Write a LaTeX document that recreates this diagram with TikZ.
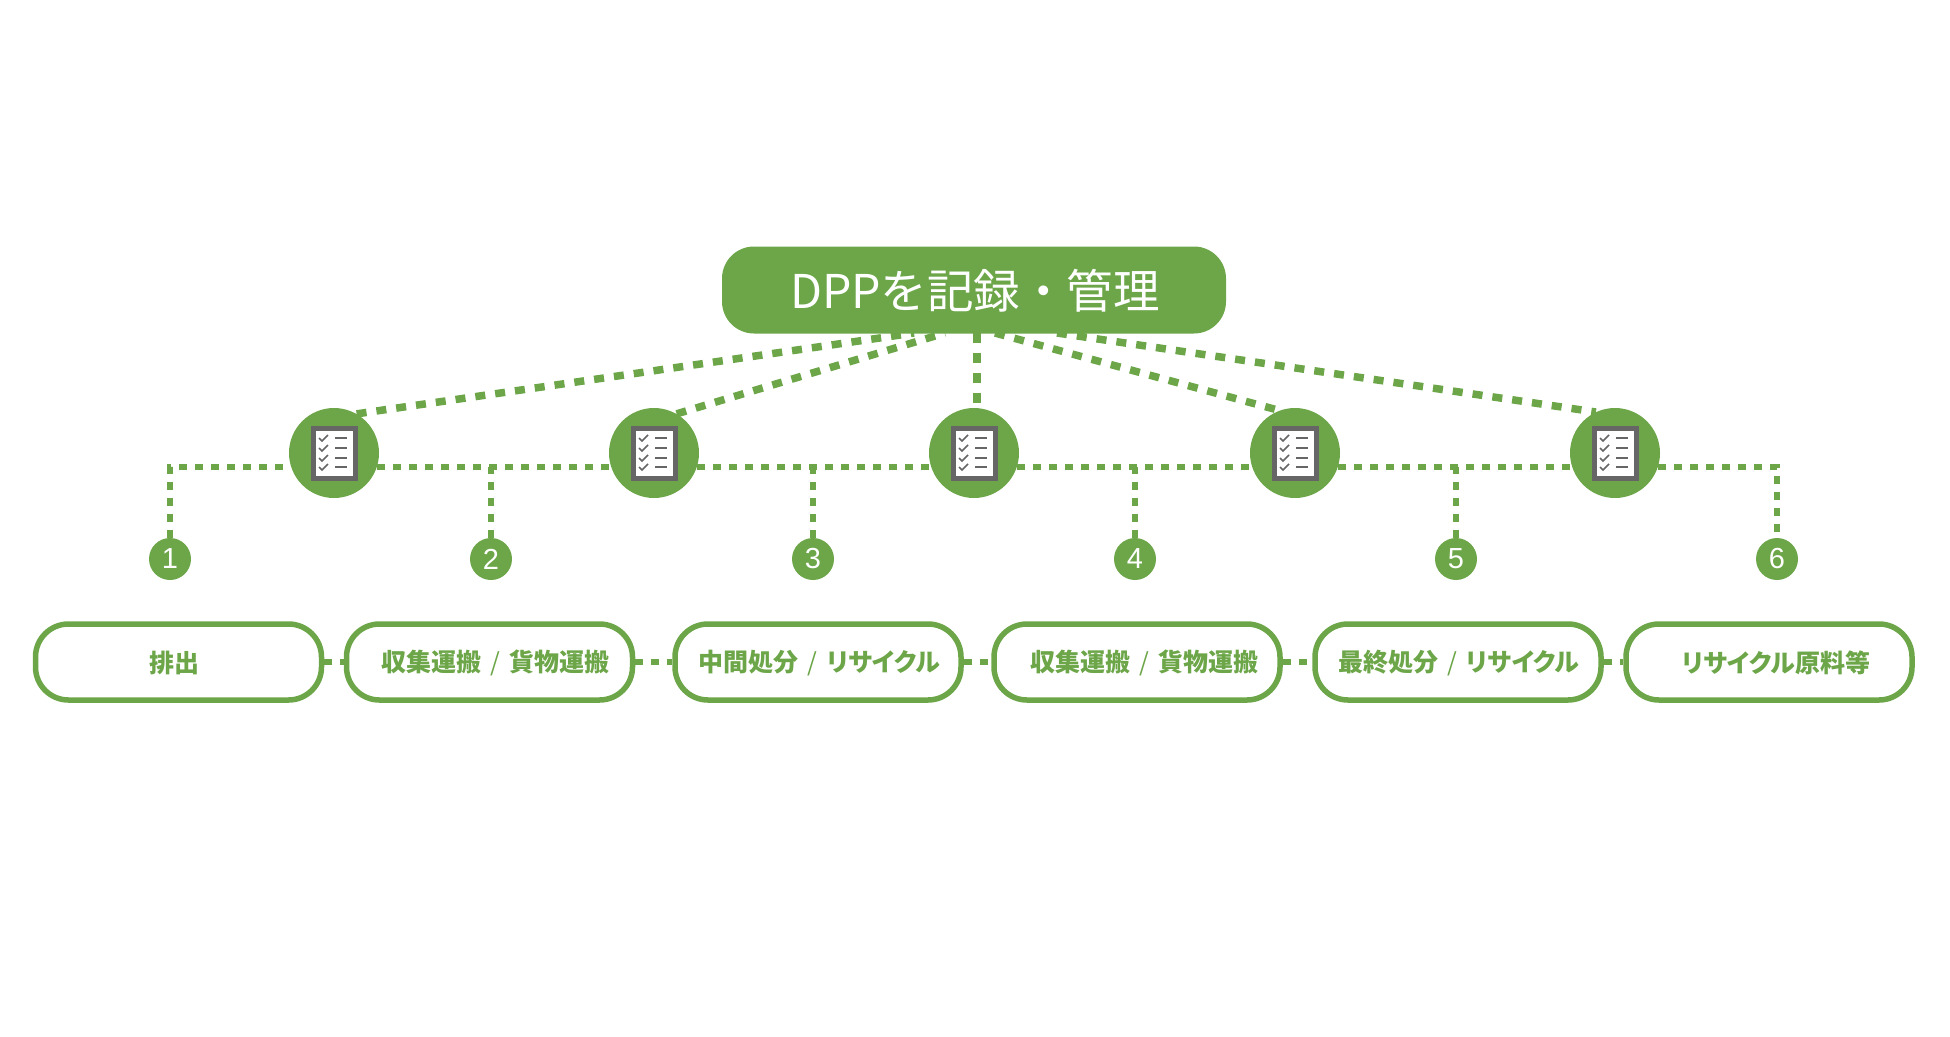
\documentclass[tikz,border=0pt]{standalone}
\usepackage{fontspec}
\setmainfont[RawFeature=+palt]{Noto Sans CJK JP}
\newfontfamily\titlefont{Noto Sans CJK JP}
\newfontfamily\numfont{Liberation Sans}
\newcommand\slashgap{\makebox[28pt]{\mdseries/}}
\usetikzlibrary{backgrounds,calc}
\definecolor{dppgreen}{HTML}{6CA648}
\definecolor{dppgray}{HTML}{666666}
\tikzset{
  x=1pt,y=-1pt,
  titlebox/.style={fill=dppgreen,rounded corners=32pt,minimum width=504pt,minimum height=87pt,inner sep=0pt},
  titletext/.style={text=white,font=\titlefont\fontsize{46.5}{50}\selectfont,inner sep=0pt},
  hub/.style={circle,fill=dppgreen,minimum size=90pt,inner sep=0pt},
  numdot/.style={circle,fill=dppgreen,minimum size=42pt,inner sep=0pt,text=white,font=\numfont\fontsize{29}{30}\selectfont},
  stage/.style={draw=dppgreen,line width=5.5pt,fill=white,rounded corners=33pt,minimum width=286pt,minimum height=76pt,inner sep=0pt},
  stagetext/.style={text=dppgreen,font=\bfseries\fontsize{25}{28}\selectfont,inner sep=0pt},
  biglink/.style={draw=dppgreen,line width=7.5pt,dash pattern=on 10pt off 10pt},
  link/.style={draw=dppgreen,line width=6pt,dash pattern=on 8pt off 8pt},
  sheet/.pic={
    \draw[dppgray,line width=5pt,fill=white] (-21,-25) rectangle (21,25);
    \foreach \yy in {-15,-5,5,14}{
      \draw[dppgray,line width=1.6pt] (-15,\yy) -- (-12,\yy+3) -- (-6,\yy-3);
      \draw[dppgray,line width=1.6pt] (1,\yy) -- (13,\yy);
    }
  }
}
\begin{document}
\begin{tikzpicture}
\useasboundingbox (0,0) rectangle (1950,1036);
\node[titlebox] (top) at (974,290) {};
\node[titletext] (toptext) at (975,291) {DPPを記録・管理};
\foreach \i/\xx in {1/334,2/654,3/974,4/1295,5/1615}{
  \node[hub] (c\i) at (\xx,453) {};
  \pic at (c\i.center) {sheet};
}
\foreach \i/\xx in {1/170,2/491,3/813,4/1135,5/1456,6/1777}{
  \node[numdot] (n\i) at (\xx,559) {\i};
}
\node[stage] (p1) at (178.5,662) {};
\node[stage] (p2) at (489.5,662) {};
\node[stage] (p3) at (818,662) {};
\node[stage] (p4) at (1137,662) {};
\node[stage] (p5) at (1458,662) {};
\node[stage] (p6) at (1769,662) {};
\node[stagetext] (s1) at (174.5,663) {排出};
\node[stagetext] (s2) at (495,663) {収集運搬\slashgap 貨物運搬};
\node[stagetext] (s3) at (819.5,663) {中間処分\slashgap リサイクル};
\node[stagetext] (s4) at (1144,663) {収集運搬\slashgap 貨物運搬};
\node[stagetext] (s5) at (1459,663) {最終処分\slashgap リサイクル};
\node[stagetext] (s6) at (1776,663) {リサイクル原料等};
\coordinate (t1) at (914,333);
\coordinate (t2) at (945,333);
\coordinate (t3) at (977,333);
\coordinate (t4) at (995,333);
\coordinate (t5) at (1057,333);
\begin{scope}[on background layer]
  \draw[biglink] (c1.60) -- (t1);
  \draw[biglink] (c2.60) -- (t2);
  \draw[biglink] (t3) -- (t3 |- c3.north);
  \draw[biglink] (t4) -- (c4.110);
  \draw[biglink] (t5) -- (c5.115);
  \draw[link] (n1.north) |- (c1.198);
  \draw[link] (c1.-18) -- (c2.198);
  \draw[link] (c2.-18) -- (c3.198);
  \draw[link] (c3.-18) -- (c4.198);
  \draw[link] (c4.-18) -- (c5.198);
  \draw[link] (c5.-18) -| (n6.north);
  \foreach \i in {2,3,4,5}{
    \draw[link] (n\i.north) -- (n\i.north |- c1.198);
  }
  \foreach \a/\b in {1/2,2/3,3/4,4/5,5/6}{
    \draw[link] (p\a.east) -- (p\b.west);
  }
\end{scope}
\end{tikzpicture}
\end{document}
